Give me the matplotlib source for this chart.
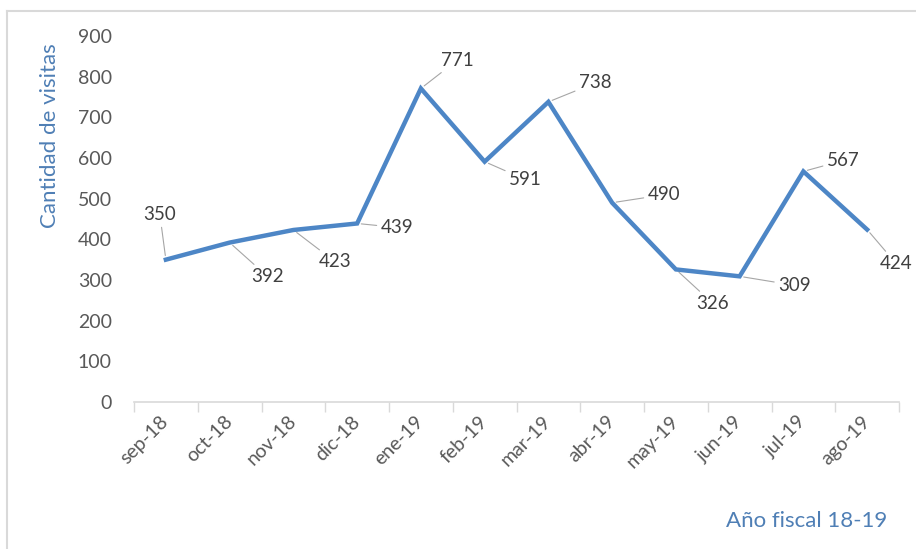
"""Visitas por mes, año fiscal 18-19 (line chart with data labels)."""
import matplotlib
matplotlib.use("Agg")
import matplotlib.pyplot as plt
from matplotlib.lines import Line2D

MONTHS = ["sep-18", "oct-18", "nov-18", "dic-18", "ene-19", "feb-19",
          "mar-19", "abr-19", "may-19", "jun-19", "jul-19", "ago-19"]
VISITS = [350, 392, 423, 439, 771, 591, 738, 490, 326, 309, 567, 424]
Y_TICKS = [0, 100, 200, 300, 400, 500, 600, 700, 800, 900]

# label offsets from each point, in pixels (x right, y up)
LABEL_OFFSETS = [(-6, 45), (38, -34), (42, -32), (40, -4), (36, 28), (41, -18),
                 (47, 19), (52, 8), (37, -34), (55, -9), (40, 11), (29, -34)]

LINE_BLUE = "#4d86c6"
TITLE_BLUE = "#4f7fb5"
TEXT_GRAY = "#404040"
TICK_GRAY = "#595959"
AXIS_GRAY = "#d9d9d9"
LEADER_GRAY = "#a6a6a6"

plt.rcParams["font.family"] = ["Lato", "DejaVu Sans"]

W, H = 916, 549
fig = plt.figure(figsize=(W / 100, H / 100), dpi=100)
ax = fig.add_axes([134 / W, 1 - 402 / H, (899 - 134) / W, (402 - 36) / H])

x = list(range(len(MONTHS)))
ax.plot(x, VISITS, color=LINE_BLUE, lw=3.2, solid_joinstyle="miter", zorder=3)

for xi, v, (dx, dy) in zip(x, VISITS, LABEL_OFFSETS):
    ax.annotate(str(v), xy=(xi, v), xytext=(dx, dy), textcoords="offset pixels",
                ha="center", va="center", fontsize=13.5, color=TEXT_GRAY,
                arrowprops=dict(arrowstyle="-", color=LEADER_GRAY, lw=0.8,
                                shrinkA=1, shrinkB=3))

ax.set_xlim(-0.5, len(MONTHS) - 0.5)
ax.set_ylim(0, 900)
ax.set_yticks(Y_TICKS)
ax.set_xticks(x)
ax.set_xticklabels(MONTHS, rotation=45, ha="right", va="center",
                   rotation_mode="anchor")
ax.set_xticks([i - 0.5 for i in range(len(MONTHS) + 1)], minor=True)
ax.tick_params(axis="x", which="major", length=0, pad=12, labelsize=14,
               labelcolor=TICK_GRAY)
ax.tick_params(axis="x", which="minor", length=7, width=1, color=AXIS_GRAY)
ax.tick_params(axis="y", length=0, pad=16, labelsize=14, labelcolor=TICK_GRAY)

for side in ("top", "right", "left"):
    ax.spines[side].set_visible(False)
ax.spines["bottom"].set_color(AXIS_GRAY)
ax.spines["bottom"].set_linewidth(1.2)

fig.text(50 / W, 1 - 136 / H, "Cantidad de visitas", rotation=90,
         ha="center", va="center", fontsize=16, color=TITLE_BLUE)
fig.text(807 / W, 1 - 521 / H, "Año fiscal 18-19", ha="center", va="center",
         fontsize=16, color=TITLE_BLUE)

# chart area frame (only top and left edges are visible in the crop)
fig.add_artist(Line2D([7 / W, 7 / W], [0, 1 - 11 / H], transform=fig.transFigure,
                      color=AXIS_GRAY, lw=1.5))
fig.add_artist(Line2D([7 / W, 1], [1 - 11 / H, 1 - 11 / H], transform=fig.transFigure,
                      color=AXIS_GRAY, lw=1.5))

fig.savefig("out.png", dpi=100)
